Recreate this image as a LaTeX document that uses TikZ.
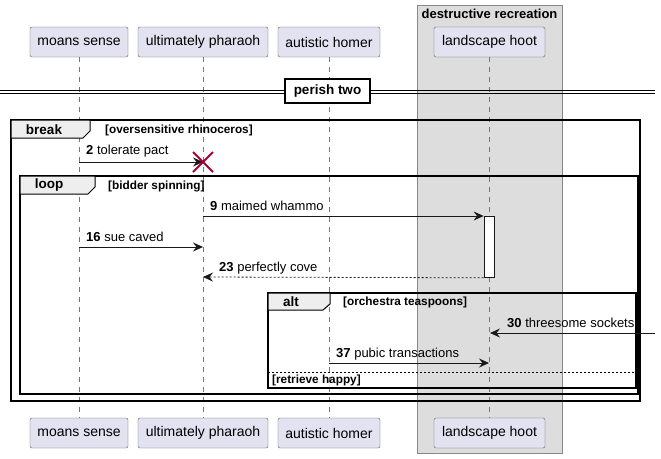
\documentclass[tikz,border=0pt]{standalone}
\usepackage{fontspec}
\setmainfont{Liberation Sans}
\usetikzlibrary{arrows.meta}
\definecolor{partfill}{HTML}{E2E2F0}
\definecolor{partdraw}{HTML}{181818}
\definecolor{grpfill}{HTML}{DDDDDD}
\definecolor{grpdraw}{HTML}{888888}
\definecolor{tabfill}{HTML}{EEEEEE}
\definecolor{xred}{HTML}{A80036}
\definecolor{lifeln}{HTML}{777777}
\tikzset{
  part/.style={draw=partdraw!70, fill=partfill, rounded corners=2pt, minimum height=30pt, inner sep=0pt, font=\fontsize{14}{16}\selectfont},
  lifeline/.style={draw=lifeln, line width=0.5pt, dash pattern=on 5pt off 5pt},
  msg/.style={draw=partdraw, line width=0.8pt, -{Stealth[length=10pt,width=9pt,inset=3.5pt]}},
  rmsg/.style={msg, dash pattern=on 2pt off 2pt},
  msglabel/.style={inner sep=0pt, anchor=west, font=\fontsize{13}{15}\selectfont},
  frameln/.style={draw=black, line width=1.5pt},
  tab/.style={draw=black, line width=1pt, fill=tabfill},
  tablabel/.style={inner sep=0pt, font=\bfseries\fontsize{13.5}{15}\selectfont},
  condlabel/.style={inner sep=0pt, anchor=west, font=\bfseries\fontsize{11.8}{14}\selectfont},
  actbox/.style={draw=partdraw, fill=white, line width=0.8pt, minimum width=10pt, minimum height=61pt, inner sep=0pt}
}
\begin{document}
\begin{tikzpicture}[x=1pt,y=-1pt]
\useasboundingbox[fill=white] (0,0) rectangle (661,458);
% group box
\node[draw=grpdraw, fill=grpfill, line width=0.8pt, minimum width=145pt, minimum height=448pt, inner sep=0pt] (grp) at (489.5,229) {};
\node[inner sep=0pt, font=\bfseries\fontsize{13}{15}\selectfont] (grptitle) at (489.5,14) {destructive recreation};
% participants
\node[part, minimum width=98pt] (p1t) at (79,42) {moans sense};
\node[part, minimum width=130pt] (p2t) at (203,42) {ultimately pharaoh};
\node[part, minimum width=102pt] (p3t) at (329,42) {autistic homer};
\node[part, minimum width=111pt] (p4t) at (489.5,42) {landscape hoot};
\node[part, minimum width=98pt] (p1b) at (79,433) {moans sense};
\node[part, minimum width=130pt] (p2b) at (203,433) {ultimately pharaoh};
\node[part, minimum width=102pt] (p3b) at (329,433) {autistic homer};
\node[part, minimum width=111pt] (p4b) at (489.5,433) {landscape hoot};
\draw[lifeline] (p1t.south) -- (p1b.north);
\draw[lifeline] (p2t.south) -- (p2b.north);
\draw[lifeline] (p3t.south) -- (p3b.north);
\draw[lifeline] (p4t.south) -- (p4b.north);
% divider
\coordinate (dl1) at (0,90);
\coordinate (dr1) at (655,90);
\coordinate (dl2) at (0,93);
\coordinate (dr2) at (655,93);
\draw[line width=1pt] (dl1) -- (dr1);
\draw[line width=1pt] (dl2) -- (dr2);
\node[draw=black, line width=1.5pt, fill=white, minimum width=85pt, minimum height=24pt, inner sep=0pt, font=\bfseries\fontsize{13.5}{15}\selectfont] (div) at (327.5,91) {perish two};
% break frame
\draw[frameln] (11,120) rectangle (640,401);
\draw[tab] (11,120) -- (90,120) -- (90,131) -- (83,138) -- (11,138) -- cycle;
\node[tablabel] (brk) at (44,129.5) {break};
\node[condlabel] (brkc) at (105,130) {[oversensitive rhinoceros]};
% message 2
\coordinate (m2a) at (79,162);
\coordinate (m2b) at (203,162);
\draw[msg] (m2a) -- (m2b);
\node[msglabel] (m2l) at (86,151) {\textbf{2} tolerate pact};
\draw[draw=xred, line width=2pt] (193,152) -- (213,172) (193,172) -- (213,152);
% loop frame
\draw[frameln] (20,176) rectangle (638,394);
\draw[tab] (20,176) -- (95,176) -- (95,187) -- (88,194) -- (20,194) -- cycle;
\node[tablabel] (lp) at (49,185.5) {loop};
\node[condlabel] (lpc) at (108,186) {[bidder spinning]};
% activation
\node[actbox, anchor=north] (act) at (489,216) {};
% message 9
\coordinate (m9a) at (203,216);
\draw[msg] (m9a) -- (act.north west);
\node[msglabel] (m9l) at (210,206) {\textbf{9} maimed whammo};
% message 16
\coordinate (m16a) at (79,247);
\coordinate (m16b) at (203,247);
\draw[msg] (m16a) -- (m16b);
\node[msglabel] (m16l) at (86,237) {\textbf{16} sue caved};
% message 23
\coordinate (m23b) at (203,277);
\draw[rmsg] (act.south west) -- (m23b);
\node[msglabel] (m23l) at (219,268) {\textbf{23} perfectly cove};
% alt frame
\draw[frameln] (268,293) rectangle (636,388);
\draw[tab] (268,293) -- (330,293) -- (330,304) -- (323,310) -- (268,310) -- cycle;
\node[tablabel] (alt) at (291,301.5) {alt};
\node[condlabel] (altc) at (343,302) {[orchestra teaspoons]};
% message 30
\coordinate (m30a) at (655,333);
\coordinate (m30b) at (490,333);
\draw[msg] (m30a) -- (m30b);
\node[msglabel] (m30l) at (507,323) {\textbf{30} threesome sockets};
% message 37
\coordinate (m37a) at (329,363);
\coordinate (m37b) at (489,363);
\draw[msg] (m37a) -- (m37b);
\node[msglabel] (m37l) at (336,354) {\textbf{37} pubic transactions};
% else separator
\coordinate (sepa) at (268,372);
\coordinate (sepb) at (636,372);
\draw[line width=0.8pt, dash pattern=on 2pt off 2pt] (sepa) -- (sepb);
\node[condlabel] (elc) at (272,380.5) {[retrieve happy]};
\end{tikzpicture}
\end{document}
